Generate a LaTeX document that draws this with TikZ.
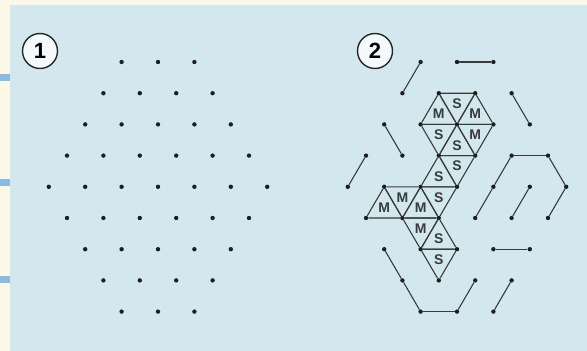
\documentclass[tikz,border=0pt]{standalone}
\usepackage{fontspec}
\setsansfont{Liberation Sans}
\usepackage{tikz}
\usetikzlibrary{calc}

\definecolor{cream}{HTML}{FBF8E7}
\definecolor{panel}{HTML}{D3E8EE}
\definecolor{tick}{HTML}{88BBE6}
\definecolor{dotc}{HTML}{1E1E1E}
\definecolor{linec}{HTML}{3A3A3A}

\begin{document}
\begin{tikzpicture}[x=1pt,y=-1pt,
 dot/.style={circle,fill=dotc,inner sep=0pt,minimum size=4.4pt},
 seg/.style={draw=linec,line width=1.1pt},
 lbl/.style={font=\sffamily\bfseries\fontsize{14}{14}\selectfont,text=linec,inner sep=0pt},
 num/.style={circle,draw=black!85,line width=1.4pt,fill=white!75!panel,minimum size=35pt,
 inner sep=0pt,font=\sffamily\bfseries\fontsize{22}{22}\selectfont}]
\useasboundingbox (0,0) rectangle (587,351);
\fill[cream] (0,0) rectangle (587,351);
\fill[panel] (10,5) rectangle (587,351);
\foreach \y in {77,182,279}
 \fill[tick] (0,\y-3.5) rectangle (10,\y+3.5);
% hexagonal lattice, row 0..8, column 0..12
\foreach \row in {0,...,8}{
 \pgfmathtruncatemacro\w{2+min(\row,8-\row)}
 \pgfmathtruncatemacro\lo{6-\w}
 \pgfmathtruncatemacro\nx{8-\w}
 \pgfmathtruncatemacro\hi{6+\w}
 \foreach \col in {\lo,\nx,...,\hi}{
 \node[dot] (one-\row-\col) at ({158+18.2*(\col-6)},{62+31.2*\row}) {};
 \node[dot] (two-\row-\col) at ({457+18.2*(\col-6)},{62+31.2*\row}) {};
 }
}
\node[num] (n1) at (40,51) {1};
\node[num] (n2) at (375,51) {2};
% loose segments
\foreach \a/\b in {two-0-6/two-0-8,two-1-3/two-0-4,two-1-9/two-2-10,two-2-2/two-3-3,
 two-3-1/two-4-0,two-5-7/two-4-8,two-4-8/two-3-9,two-3-9/two-3-11,two-3-11/two-4-12,
 two-4-12/two-5-11,two-4-10/two-5-9,two-6-8/two-6-10,two-6-2/two-7-3,two-7-3/two-8-4,
 two-8-4/two-8-6,two-8-6/two-7-7,two-7-9/two-8-8}
 \draw[seg] (\a)--(\b);
% triangles
\foreach \a/\b/\d/\t [count=\i] in {two-1-5/two-1-7/two-2-6/S,two-1-5/two-2-4/two-2-6/M,
 two-1-7/two-2-8/two-2-6/M,two-2-4/two-2-6/two-3-5/S,two-2-8/two-2-6/two-3-7/M,
 two-2-6/two-3-5/two-3-7/S,two-3-5/two-3-7/two-4-6/S,two-3-5/two-4-6/two-4-4/S,
 two-4-2/two-5-1/two-5-3/M,two-4-2/two-4-4/two-5-3/M,two-4-4/two-5-3/two-5-5/M,
 two-4-4/two-4-6/two-5-5/S,two-5-3/two-5-5/two-6-4/M,two-5-5/two-6-4/two-6-6/S,
 two-6-4/two-6-6/two-7-5/S}{
 \draw[seg] (\a)--(\b) (\b)--(\d) (\d)--(\a);
 \node[lbl] (tri\i) at (barycentric cs:\a=1,\b=1,\d=1) {\t};
}
\end{tikzpicture}
\end{document}
